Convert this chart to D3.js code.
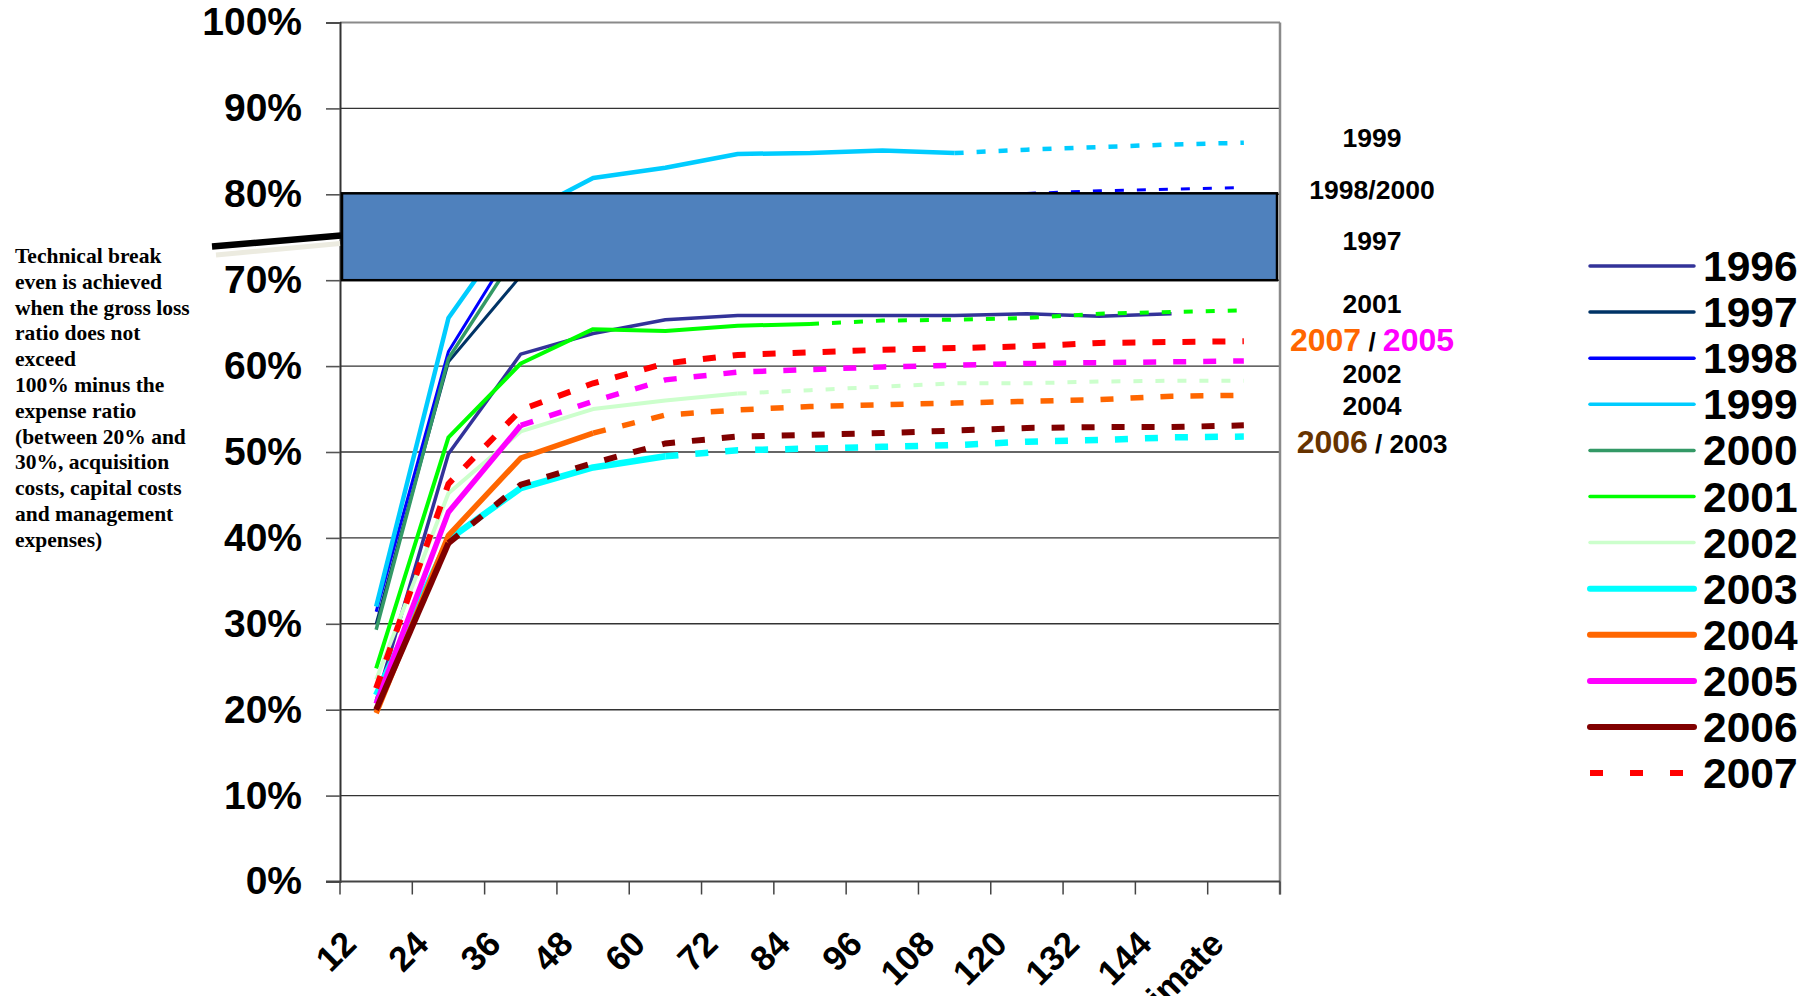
<!DOCTYPE html>
<html>
<head>
<meta charset="utf-8">
<script src="https://cdn.jsdelivr.net/npm/d3@7"></script>
<style>
  body { margin: 0; background: #fff; }
  svg { display: block; }
</style>
</head>
<body>
<div id="chart"></div>
<script>
// development months (x axis)
const months = ['12', '24', '36', '48', '60', '72', '84', '96', '108', '120', '132', '144', 'Ultimate'];
const yTicks = [0, 10, 20, 30, 40, 50, 60, 70, 80, 90, 100];
const years = ['1996', '1997', '1998', '1999', '2000', '2001', '2002', '2003', '2004', '2005', '2006', '2007'];

// gross loss ratio in %, per underwriting year (null = no value)
const lr1996 = [21.0, 49.8, 61.4, 63.8, 65.4, 65.9, 65.9, 65.9, 65.9, 66.1, 65.8, 66.1, null];
const lr1997 = [30.0, 60.5, 70.5, 72.5, 73.5, 74.0, 74.3, 74.5, 74.6, 74.7, 74.8, 74.9, 75.0];
const lr1998 = [31.4, 61.7, 75.3, 77.5, 78.5, 79.2, 79.5, 79.7, 79.9, 80.1, 80.4, 80.6, 80.8];
const lr1999 = [32.0, 65.6, 77.5, 81.9, 83.1, 84.7, 84.8, 85.1, 84.8, 85.2, 85.5, 85.8, 86.0];
const lr2000 = [29.3, 60.9, 73.8, 76.5, 77.8, 78.5, 79.0, 79.3, 79.5, 79.6, 79.7, 79.8, 79.9];
const lr2001 = [24.8, 51.7, 60.3, 64.3, 64.1, 64.7, 64.9, 65.3, 65.4, 65.6, 66.1, 66.3, 66.5];
const lr2002 = [23.5, 45.2, 52.4, 55.0, 56.0, 56.8, 57.2, 57.6, 58.0, 58.0, 58.2, 58.3, 58.3];
const lr2003 = [21.7, 39.8, 45.8, 48.2, 49.5, 50.2, 50.4, 50.6, 50.8, 51.2, 51.4, 51.7, 51.8];
const lr2004 = [19.6, 40.3, 49.3, 52.2, 54.3, 54.9, 55.3, 55.5, 55.7, 55.9, 56.1, 56.5, 56.6];
const lr2005 = [20.7, 43.0, 53.1, 55.9, 58.4, 59.3, 59.6, 59.9, 60.1, 60.3, 60.4, 60.5, 60.6];
const lr2006 = [20.0, 39.4, 46.2, 48.7, 51.0, 51.8, 52.0, 52.2, 52.5, 52.8, 52.9, 52.9, 53.1];
const lr2007 = [22.5, 46.3, 54.9, 58.0, 60.3, 61.3, 61.6, 61.9, 62.1, 62.3, 62.7, 62.8, 62.9];

// index of the last observed month, later points are projections
const lastObserved = [11, 10, 9, 8, 7, 6, 5, 4, 3, 2, 1, 0];

// technical break even band (%)
const breakEven = [70, 80];

const CONFIG = {
    WIDTH: 1814,
    HEIGHT: 996,
    LEFT: 340,
    RIGHT: 1280,
    TOP: 22.5,
    BOTTOM: 881.5,
    COLORS: ['#333399', '#003366', '#0000FF', '#00CCFF', '#339966', '#00FF00',
        '#CCFFCC', '#00FFFF', '#FF6600', '#FF00FF', '#800000', '#FF0000'],
    LINE_WIDTHS: [3.5, 3, 3, 4.5, 3.5, 4, 4, 6.5, 5.5, 5.5, 6, 6],
    SANS: 'Arial, "Liberation Sans", sans-serif',
    SERIF: '"Times New Roman", "Liberation Serif", serif'
};

const series = [lr1996, lr1997, lr1998, lr1999, lr2000, lr2001, lr2002, lr2003, lr2004, lr2005, lr2006, lr2007]
    .map(function (values, i) {
        return {
            year: years[i],
            color: CONFIG.COLORS[i],
            width: CONFIG.LINE_WIDTHS[i],
            observed: values.map(function (v, j) { return { m: months[j], v: v }; })
                .filter(function (d, j) { return d.v !== null && j <= lastObserved[i]; }),
            projected: values.map(function (v, j) { return { m: months[j], v: v }; })
                .filter(function (d, j) { return d.v !== null && j >= lastObserved[i]; }),
            allDashed: i === 11
        };
    });

const svg = d3.select('#chart').append('svg')
    .attr('width', CONFIG.WIDTH)
    .attr('height', CONFIG.HEIGHT)
    .attr('xmlns', 'http://www.w3.org/2000/svg');

svg.append('rect').attr('width', CONFIG.WIDTH).attr('height', CONFIG.HEIGHT).attr('fill', '#fff');

const x = d3.scaleBand().domain(months).range([CONFIG.LEFT, CONFIG.RIGHT]).paddingInner(0).paddingOuter(0);
const y = d3.scaleLinear().domain([0, 100]).range([CONFIG.BOTTOM, CONFIG.TOP]);
const cx = function (m) { return x(m) + x.bandwidth() / 2; };

// gridlines
svg.append('g').selectAll('line')
    .data(yTicks.filter(function (d) { return d > 0 && d < 100; }))
    .enter().append('line')
    .attr('x1', CONFIG.LEFT).attr('x2', CONFIG.RIGHT)
    .attr('y1', function (d) { return y(d); }).attr('y2', function (d) { return y(d); })
    .attr('stroke', '#333').attr('stroke-width', 1.4);

// top & right border
svg.append('line').attr('x1', CONFIG.LEFT).attr('x2', CONFIG.RIGHT)
    .attr('y1', y(100)).attr('y2', y(100)).attr('stroke', '#8a8a8a').attr('stroke-width', 2.2);
svg.append('line').attr('x1', CONFIG.RIGHT).attr('x2', CONFIG.RIGHT)
    .attr('y1', y(100)).attr('y2', CONFIG.BOTTOM + 13).attr('stroke', '#8a8a8a').attr('stroke-width', 2.5);

// y axis
const yAxis = svg.append('g')
    .attr('transform', 'translate(' + CONFIG.LEFT + ',0)')
    .call(d3.axisLeft(y).tickValues(yTicks).tickSize(14).tickPadding(24)
        .tickFormat(function (d) { return d + '%'; }));
yAxis.select('.domain').attr('stroke', '#333').attr('stroke-width', 2);
yAxis.selectAll('.tick line').attr('stroke', '#555').attr('stroke-width', 1.6);
yAxis.selectAll('.tick text')
    .attr('fill', '#000')
    .style('font-family', CONFIG.SANS)
    .style('font-size', '39px')
    .style('font-weight', 'bold');

// x axis line and boundary ticks
svg.append('line').attr('x1', CONFIG.LEFT - 14).attr('x2', CONFIG.RIGHT)
    .attr('y1', CONFIG.BOTTOM).attr('y2', CONFIG.BOTTOM).attr('stroke', '#444').attr('stroke-width', 2.2);
svg.append('g').selectAll('line')
    .data(months.map(function (m) { return x(m); }).concat([CONFIG.RIGHT]))
    .enter().append('line')
    .attr('x1', function (d) { return d; }).attr('x2', function (d) { return d; })
    .attr('y1', CONFIG.BOTTOM).attr('y2', CONFIG.BOTTOM + 13)
    .attr('stroke', '#444').attr('stroke-width', 1.5);

// month labels (the last one runs off the bottom edge, as in the source)
svg.append('g').selectAll('text')
    .data(months)
    .enter().append('text')
    .attr('transform', function (d) { return 'translate(' + (cx(d) - 18) + ',' + 946 + ')rotate(-45)'; })
    .attr('text-anchor', 'end')
    .style('font-family', CONFIG.SANS)
    .style('font-size', '35px')
    .style('font-weight', 'bold')
    .text(function (d) { return d; });

// series lines
const line = d3.line()
    .x(function (d) { return cx(d.m); })
    .y(function (d) { return y(d.v); });

const lines = svg.append('g').attr('fill', 'none');
series.forEach(function (s) {
    if (!s.allDashed && s.observed.length > 1) {
        lines.append('path')
            .attr('d', line(s.observed))
            .attr('stroke', s.color)
            .attr('stroke-width', s.width)
            .attr('stroke-linejoin', 'round');
    }
    if (s.projected.length > 1) {
        lines.append('path')
            .attr('d', line(s.projected))
            .attr('stroke', s.color)
            .attr('stroke-width', s.width)
            .attr('stroke-dasharray', s.width < 5 ? '9,13' : '13,17');
    }
});

// break even box
svg.append('rect')
    .attr('x', CONFIG.LEFT + 2)
    .attr('y', y(breakEven[1]) - 1)
    .attr('width', CONFIG.RIGHT - CONFIG.LEFT - 5)
    .attr('height', y(breakEven[0]) - y(breakEven[1]) + 1)
    .attr('fill', '#4F81BD')
    .attr('stroke', '#000')
    .attr('stroke-width', 2.5);

// pointer line from note to box
svg.append('line').attr('x1', 216).attr('y1', 255).attr('x2', 340).attr('y2', 243.5)
    .attr('stroke', '#ECEBE0').attr('stroke-width', 5);
svg.append('line').attr('x1', 212).attr('y1', 246.5).attr('x2', 341).attr('y2', 235.5)
    .attr('stroke', '#000').attr('stroke-width', 6.5);

// note
const noteLines = ['Technical break', 'even is achieved', 'when the gross loss', 'ratio does not', 'exceed',
    '100% minus the', 'expense ratio', '(between 20% and', '30%, acquisition', 'costs, capital costs',
    'and management', 'expenses)'];
svg.append('text')
    .attr('x', 15).attr('y', 263)
    .style('font-family', CONFIG.SERIF)
    .style('font-size', '21.5px')
    .style('font-weight', 'bold')
    .selectAll('tspan')
    .data(noteLines)
    .enter().append('tspan')
    .attr('x', 15)
    .attr('dy', function (d, i) { return i === 0 ? 0 : 25.8; })
    .text(function (d) { return d; });

// year labels next to the projections
const tags = [
    { y: 147, parts: [['1999', '#000', 26.5]] },
    { y: 199, parts: [['1998/2000', '#000', 26.5]] },
    { y: 250, parts: [['1997', '#000', 26.5]] },
    { y: 313, parts: [['2001', '#000', 26.5]] },
    { y: 351, parts: [['2007', '#FF6600', 32], [' / ', '#000', 26], ['2005', '#FF00FF', 32]] },
    { y: 383, parts: [['2002', '#000', 26.5]] },
    { y: 415, parts: [['2004', '#000', 26.5]] },
    { y: 453, parts: [['2006', '#663300', 32], [' / 2003', '#000', 26]] }
];
svg.append('g').selectAll('text')
    .data(tags)
    .enter().append('text')
    .attr('x', 1372).attr('y', function (d) { return d.y; })
    .attr('text-anchor', 'middle')
    .style('font-family', CONFIG.SANS)
    .style('font-weight', 'bold')
    .selectAll('tspan')
    .data(function (d) { return d.parts; })
    .enter().append('tspan')
    .attr('fill', function (d) { return d[1]; })
    .style('font-size', function (d) { return d[2] + 'px'; })
    .text(function (d) { return d[0]; });

// legend
const legend = svg.append('g').selectAll('g')
    .data(series)
    .enter().append('g')
    .attr('transform', function (d, i) { return 'translate(0,' + (266 + i * 46.1) + ')'; });
legend.append('line')
    .attr('x1', 1590).attr('x2', 1694)
    .attr('stroke', function (d) { return d.color; })
    .attr('stroke-width', function (d) { return d.width < 5 ? 3.5 : 6; })
    .attr('stroke-linecap', function (d) { return d.allDashed ? 'butt' : 'round'; })
    .attr('stroke-dasharray', function (d) { return d.allDashed ? '13,27' : null; });
legend.append('text')
    .attr('x', 1703).attr('y', 15)
    .style('font-family', CONFIG.SANS)
    .style('font-size', '42.5px')
    .style('font-weight', 'bold')
    .text(function (d) { return d.year; });
</script>
</body>
</html>
